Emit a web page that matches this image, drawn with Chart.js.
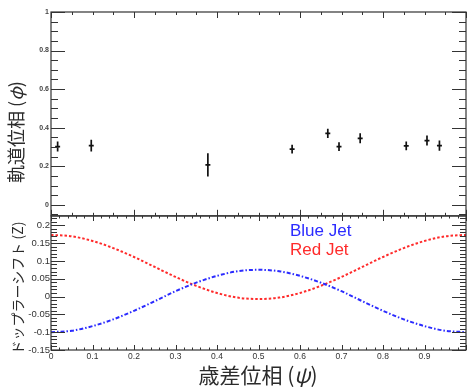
<!DOCTYPE html>
<html>
<head>
<meta charset="utf-8">
<script src="https://cdn.jsdelivr.net/npm/chart.js@4/dist/chart.umd.min.js"></script>
<style>
    body { margin: 0; background: #fff; }
    #wrap { position: relative; width: 467px; height: 387px; overflow: hidden; }
    #topBox { position: absolute; left: 0; top: 0; width: 467px; height: 222px; }
    #bottomBox { position: absolute; left: 0; top: 206px; width: 467px; height: 181px; }
    .title { position: absolute; white-space: nowrap; color: #2b2b2b; font-family: "Noto Sans CJK JP"; line-height: 1; }
    .vert { transform: translate(-50%, -50%) rotate(-90deg); }
    .horz { transform: translate(-50%, -50%); }
    .jet { position: absolute; left: 290px; font-family: "Liberation Sans"; font-size: 17px; line-height: 1; white-space: nowrap; }
</style>
</head>
<body>
<div id="wrap">
    <div id="topBox"><canvas id="topChart"></canvas></div>
    <div id="bottomBox"><canvas id="bottomChart"></canvas></div>
    <div class="title vert" style="left:15px; top:132px; font-size:18px;">軌道位相 (<i>φ</i>)</div>
    <div class="title vert" style="left:17px; top:288px; font-size:14px;">ドップラーシフト (Z)</div>
    <div class="title horz" style="left:258px; top:374px; font-size:21px;">歳差位相 (<i>ψ</i>)</div>
    <div class="jet" style="top:222px; color:#2b2bff;">Blue Jet</div>
    <div class="jet" style="top:241px; color:#ff2b2b;">Red Jet</div>
</div>
<script>
// 上段: 観測点 (歳差位相, 軌道位相, 誤差)
const orbitPhase = [0.016, 0.097, 0.378, 0.581, 0.667, 0.694, 0.745, 0.856, 0.906, 0.936];
const orbitValue = [0.302, 0.307, 0.207, 0.289, 0.371, 0.302, 0.345, 0.306, 0.333, 0.307];
const orbitErr = [0.026, 0.03, 0.06, 0.023, 0.024, 0.023, 0.026, 0.023, 0.026, 0.026];
const phaseErr = [0.006, 0.006, 0.006, 0.006, 0.006, 0.006, 0.006, 0.006, 0.006, 0.006];

// 下段: ドップラーシフト曲線
const shiftPhase = [0, 0.05, 0.1, 0.15, 0.2, 0.25, 0.3, 0.35, 0.4, 0.45, 0.5,
    0.55, 0.6, 0.65, 0.7, 0.75, 0.8, 0.85, 0.9, 0.95, 1];
const redShift = [0.173, 0.169, 0.156, 0.136, 0.111, 0.083, 0.055, 0.030, 0.010, -0.003, -0.007,
    -0.003, 0.010, 0.030, 0.055, 0.083, 0.111, 0.136, 0.156, 0.169, 0.173];
const blueShift = [-0.100, -0.096, -0.083, -0.064, -0.040, -0.013, 0.015, 0.039, 0.058, 0.071, 0.075,
    0.071, 0.058, 0.039, 0.015, -0.013, -0.040, -0.064, -0.083, -0.096, -0.100];

// 目盛りラベル
const orbitTicks = [0, 0.2, 0.4, 0.6, 0.8, 1];
const shiftTicks = [-0.15, -0.1, -0.05, 0, 0.05, 0.1, 0.15, 0.2];
const phaseTicks = [0, 0.1, 0.2, 0.3, 0.4, 0.5, 0.6, 0.7, 0.8, 0.9];

// 目盛り位置 (min..max を step ごと)
function marks(min, max, step) {
    const out = [];
    const start = Math.ceil(min / step - 1e-6);
    for (let i = start; i * step <= max + 1e-9; i++) out.push(i * step);
    return out;
}

// ROOT風の枠と内向きの目盛り
const rootFrame = {
    id: "rootFrame",
    afterDraw(chart, args, opts) {
        const { ctx, chartArea: a, scales } = chart;
        const xs = scales.x;
        const ys = scales.y;
        ctx.save();
        ctx.strokeStyle = "#333";
        ctx.lineWidth = 1.2;
        ctx.strokeRect(a.left, a.top, a.right - a.left, a.bottom - a.top);
        ctx.lineWidth = 1;
        ctx.beginPath();
        [[opts.y.minor, opts.y.minorLen], [opts.y.major, opts.y.majorLen]].forEach(([step, len]) => {
            marks(ys.min, ys.max, step).forEach((v) => {
                const y = Math.round(ys.getPixelForValue(v)) + 0.5;
                ctx.moveTo(a.left, y);
                ctx.lineTo(a.left + len, y);
                ctx.moveTo(a.right, y);
                ctx.lineTo(a.right - len, y);
            });
        });
        [[opts.x.minor, opts.x.minorLen], [opts.x.major, opts.x.majorLen]].forEach(([step, len]) => {
            marks(xs.min, xs.max, step).forEach((v) => {
                const x = Math.round(xs.getPixelForValue(v)) + 0.5;
                ctx.moveTo(x, a.top);
                ctx.lineTo(x, a.top + len);
                ctx.moveTo(x, a.bottom);
                ctx.lineTo(x, a.bottom - len);
            });
        });
        ctx.stroke();
        ctx.restore();
    },
};

// 誤差棒
const errorBars = {
    id: "errorBars",
    afterDatasetsDraw(chart) {
        const { ctx, scales } = chart;
        const xs = scales.x;
        const ys = scales.y;
        ctx.save();
        ctx.strokeStyle = "#111";
        ctx.lineWidth = 1.7;
        ctx.beginPath();
        orbitPhase.forEach((p, i) => {
            const x = xs.getPixelForValue(p);
            const y = ys.getPixelForValue(orbitValue[i]);
            ctx.moveTo(x, ys.getPixelForValue(orbitValue[i] - orbitErr[i]));
            ctx.lineTo(x, ys.getPixelForValue(orbitValue[i] + orbitErr[i]));
            ctx.moveTo(xs.getPixelForValue(p - phaseErr[i]), y);
            ctx.lineTo(xs.getPixelForValue(p + phaseErr[i]), y);
        });
        ctx.stroke();
        ctx.restore();
    },
};

const tickFont = { family: "Liberation Sans" };

new Chart(document.getElementById("topChart"), {
    type: "scatter",
    data: {
        datasets: [
            {
                data: orbitPhase.map((p, i) => ({ x: p, y: orbitValue[i] })),
                pointRadius: 0,
            },
        ],
    },
    options: {
        responsive: true,
        maintainAspectRatio: false,
        animation: false,
        layout: { padding: { top: 12, bottom: 6, left: 0, right: 1 } },
        plugins: {
            legend: { display: false },
            tooltip: { enabled: false },
            rootFrame: {
                x: { major: 0.2, majorLen: 6, minor: 0.05, minorLen: 3 },
                y: { major: 0.2, majorLen: 14, minor: 0.05, minorLen: 7 },
            },
        },
        scales: {
            x: { type: "linear", min: 0, max: 1, display: false },
            y: {
                min: -0.057,
                max: 1,
                afterFit: (s) => { s.width = 51; },
                afterBuildTicks: (s) => { s.ticks = orbitTicks.map((v) => ({ value: v })); },
                grid: { display: false, drawTicks: false },
                border: { display: false },
                ticks: {
                    padding: 2,
                    color: "#444",
                    font: { ...tickFont, size: 7, weight: "bold" },
                    callback: (v) => String(v),
                },
            },
        },
    },
    plugins: [rootFrame, errorBars],
});

new Chart(document.getElementById("bottomChart"), {
    type: "scatter",
    data: {
        datasets: [
            {
                label: "Blue Jet",
                data: shiftPhase.map((p, i) => ({ x: p, y: blueShift[i] })),
                showLine: true,
                borderColor: "#2b2bff",
                borderWidth: 2,
                borderDash: [4, 2, 1.5, 2],
                cubicInterpolationMode: "monotone",
                pointRadius: 0,
            },
            {
                label: "Red Jet",
                data: shiftPhase.map((p, i) => ({ x: p, y: redShift[i] })),
                showLine: true,
                borderColor: "#ff2b2b",
                borderWidth: 2,
                borderDash: [2.5, 2],
                cubicInterpolationMode: "monotone",
                pointRadius: 0,
            },
        ],
    },
    options: {
        responsive: true,
        maintainAspectRatio: false,
        animation: false,
        layout: { padding: { top: 10, bottom: 0, left: 0, right: 1 } },
        plugins: {
            legend: { display: false },
            tooltip: { enabled: false },
            rootFrame: {
                x: { major: 0.1, majorLen: 5, minor: 0.02, minorLen: 2.5 },
                y: { major: 0.05, majorLen: 14, minor: 0.01, minorLen: 6 },
            },
        },
        scales: {
            x: {
                type: "linear",
                min: 0,
                max: 1,
                afterFit: (s) => { s.height = 37; },
                afterBuildTicks: (s) => { s.ticks = phaseTicks.map((v) => ({ value: v })); },
                grid: { display: false, drawTicks: false },
                border: { display: false },
                ticks: {
                    padding: 2,
                    maxRotation: 0,
                    autoSkip: false,
                    color: "#333",
                    font: { ...tickFont, size: 8.5 },
                    callback: (v) => String(v),
                },
            },
            y: {
                min: -0.15,
                max: 0.226,
                afterFit: (s) => { s.width = 51; },
                afterBuildTicks: (s) => { s.ticks = shiftTicks.map((v) => ({ value: v })); },
                grid: { display: false, drawTicks: false },
                border: { display: false },
                ticks: {
                    padding: 1,
                    color: "#333",
                    font: { ...tickFont, size: 9.5 },
                    callback: (v) => String(v),
                },
            },
        },
    },
    plugins: [rootFrame],
});
</script>
</body>
</html>
